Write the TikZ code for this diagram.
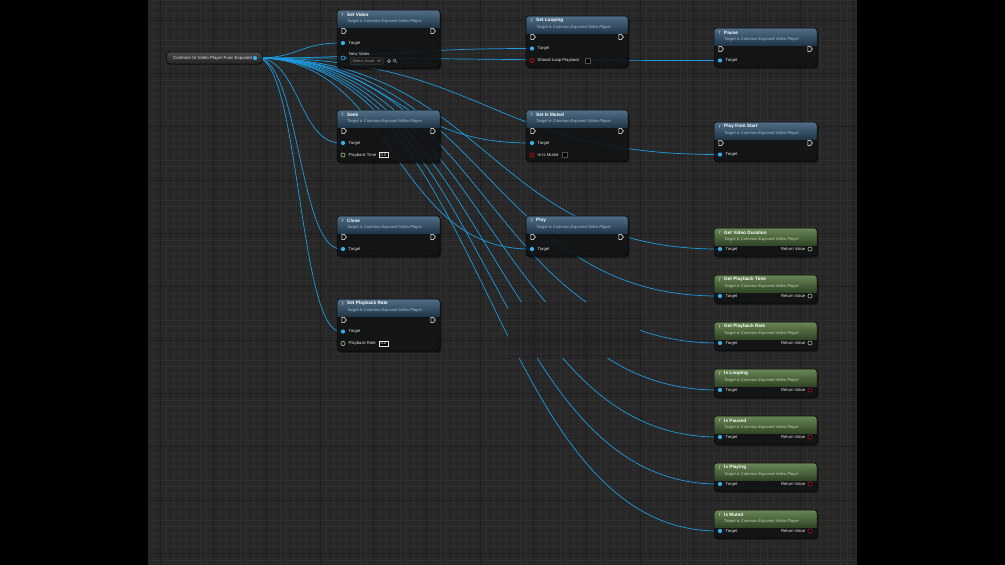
\documentclass[tikz,border=0pt]{standalone}
\usepackage{fontspec}
\setmainfont{Liberation Sans}
\usetikzlibrary{calc}
\pgfdeclarelayer{gridlayer}
\pgfdeclarelayer{wirelayer}
\pgfsetlayers{gridlayer,wirelayer,main}
\definecolor{barc}{HTML}{000000}
\definecolor{gridbg}{HTML}{272727}
\definecolor{gridminor}{HTML}{2E2E2E}
\definecolor{gridmajor}{HTML}{1F1F1F}
\definecolor{boxc}{HTML}{242424}
\definecolor{wirec}{HTML}{1E9BE0}
\definecolor{bodyc}{HTML}{131415}
\definecolor{hblueA}{HTML}{55758F}
\definecolor{hblueB}{HTML}{23394B}
\definecolor{hgreenA}{HTML}{6E8E5A}
\definecolor{hgreenB}{HTML}{33492A}
\definecolor{pinblue}{HTML}{35AEEA}
\definecolor{subbluec}{HTML}{A9C2D8}
\definecolor{subgreenc}{HTML}{C2D8B2}
\definecolor{floatc}{HTML}{A6CC86}
\definecolor{boolc}{HTML}{B01A1A}
\definecolor{labelc}{HTML}{E4E4E4}
\definecolor{greyc}{HTML}{8A8A8A}
\definecolor{HTMLgrey}{HTML}{505050}
\definecolor{HTMLvarA}{HTML}{4A4A4A}
\definecolor{HTMLvarB}{HTML}{222222}
\definecolor{HTMLsel}{HTML}{1E1E1E}
\definecolor{HTMLboolfill}{HTML}{3A0808}
\tikzset{
  wire/.style={draw=wirec, line width=0.7pt},
  nodebody/.style={fill=bodyc, fill opacity=0.84, draw=none, rounded corners=3pt, inner sep=0pt},
  hdrblue/.style={top color=hblueA, bottom color=hblueB, opacity=0.95},
  hdrgreen/.style={top color=hgreenA, bottom color=hgreenB, opacity=0.95},
  titletext/.style={font=\fontsize{4.7}{5}\selectfont\bfseries, text=white, inner sep=0pt, anchor=west},
  subtextblue/.style={font=\fontsize{4.1}{5}\selectfont\itshape, text=subbluec, inner sep=0pt, anchor=west},
  subtextgreen/.style={font=\fontsize{4.1}{5}\selectfont\itshape, text=subgreenc, inner sep=0pt, anchor=west},
  ficon/.style={font=\fontsize{4.5}{5}\selectfont\itshape, text=labelc, inner sep=0pt},
  pinlabel/.style={font=\fontsize{4.2}{5}\selectfont, text=labelc, inner sep=0pt, anchor=west},
  execp/.style={draw=white, line width=0.5pt, line join=round},
  tpinst/.style={circle, fill=pinblue, inner sep=0pt, minimum size=4.2pt},
  valst/.style={draw=labelc, line width=0.45pt, fill=black, inner xsep=1.4pt, inner ysep=0.9pt, font=\fontsize{4.3}{5}\selectfont, text=white, anchor=west},
  chkst/.style={draw=HTMLgrey, line width=0.45pt, fill=black, inner sep=0pt, minimum size=5pt, anchor=west},
}
\newcommand\bpnode[7]{%
  \fill[black, opacity=0.35, rounded corners=3pt] (#2+1.5,#3+2) rectangle ++(#4,#5);
  \node[nodebody, minimum width=#4pt, minimum height=#5pt, anchor=north west] (#1) at (#2,#3) {};
  \begin{scope}
    \clip[rounded corners=3pt] (#2,#3) rectangle ++(#4,#5);
    \shade[hdr#7] (#2,#3) rectangle ++(#4,17);
  \end{scope}
  \draw[rounded corners=3pt, draw=black, line width=0.5pt] (#2,#3) rectangle ++(#4,#5);
  \node[ficon] (#1-f) at (#2+5.5,#3+4.5) {f};
  \node[titletext] (#1-title) at (#2+10,#3+4.5) {#6};
  \node[subtext#7] (#1-sub) at (#2+10,#3+11.2) {Target is Common Exposed Video Player};
}
\newcommand\execpin[2]{\draw[execp] (#1-2.2,#2-2.6) -- (#1+0.3,#2-2.6) -- (#1+2.4,#2) -- (#1+0.3,#2+2.6) -- (#1-2.2,#2+2.6) -- cycle;}
\newcommand\tpin[3]{\node[tpinst] (#1) at (#2,#3) {}; \node[pinlabel] (#1-lbl) at (#2+5.5,#3) {Target};}
\newcommand\retpin[4]{\node[circle, draw=#4, line width=0.6pt, fill=black, inner sep=0pt, minimum size=4.2pt] (#1) at (#2,#3) {};
  \node[pinlabel, anchor=east] (#1-lbl) at (#2-4.5,#3) {Return Value};}
\newcommand\wire[3]{\draw[wire] (#1) .. controls +(#3,0) and +(-#3,0) .. (#2);}
\newcommand\gridlines{%
  \foreach \k in {-2,...,106} \draw[gridminor, line width=0.35pt] ({160+\k*6.6667},0) -- ({160+\k*6.6667},565);
  \foreach \k in {-3,...,82} \draw[gridminor, line width=0.35pt] (148,{20+\k*6.6667}) -- (857,{20+\k*6.6667});
  \foreach \k in {-1,...,13} \draw[gridmajor, line width=0.6pt] ({160+\k*53.333},0) -- ({160+\k*53.333},565);
  \foreach \k in {-1,...,10} \draw[gridmajor, line width=0.6pt] (148,{20+\k*53.333}) -- (857,{20+\k*53.333});
}
\begin{document}
\begin{tikzpicture}[x=1pt,y=-1pt]
\useasboundingbox (0,0) rectangle (1005,565);
\begin{pgfonlayer}{gridlayer}
  \fill[barc] (0,0) rectangle (1005,565);
  \fill[gridbg] (148,0) rectangle (857,565);
  \begin{scope}
    \clip (148,0) rectangle (857,565);
    \gridlines
  \end{scope}
\end{pgfonlayer}

% occluding patch
\fill[boxc] (508,302) rectangle (640,358);
\begin{scope}
  \clip (508,302) rectangle (640,358);
  \gridlines
\end{scope}

% variable node
\node[rounded corners=4pt, top color=HTMLvarA, bottom color=HTMLvarB, draw=black, line width=0.5pt, minimum width=96pt, minimum height=12pt, inner sep=0pt, anchor=west] (var) at (166,58) {};
\node[pinlabel, font=\fontsize{4.4}{5}\selectfont] (var-lbl) at (173,58) {Common Ui Video Player Func Exposed};
\node[tpinst] (var-o) at (255,58) {};

% Set Video
\bpnode{sv}{337}{10}{103}{58}{Set Video}{blue}
\execpin{344}{31}\execpin{433}{31}
\tpin{sv-t}{343}{43}
\node[circle, draw=pinblue, line width=0.6pt, inner sep=0pt, minimum size=4pt] (sv-nv) at (343,58) {};
\fill[pinblue] (345.6,56.8) -- (347,58) -- (345.6,59.2) -- cycle;
\node[pinlabel] (sv-nvl) at (349,53.5) {New Video};
\node[draw=HTMLgrey, fill=HTMLsel, rounded corners=1pt, inner sep=0pt, minimum width=33pt, minimum height=6.5pt, anchor=west] (sv-sel) at (350,61) {};
\node[pinlabel, text=greyc, font=\fontsize{3.9}{4}\selectfont] (sv-selt) at (352.5,61) {Select Asset};
\draw[greyc, line width=0.4pt] (377.5,60) -- (379,61.5) -- (380.5,60);
\draw[greyc, line width=0.45pt] (389,61) circle (1.8);
\draw[greyc, line width=0.4pt] (388.2,61) -- (389.8,61);
\draw[greyc, line width=0.45pt] (394.5,60.5) circle (1.5);
\draw[greyc, line width=0.5pt] (395.6,61.6) -- (397,63);

% Set Looping
\bpnode{sl}{526}{16}{102}{51}{Set Looping}{blue}
\execpin{533}{37}\execpin{621}{37}
\tpin{sl-t}{532}{48.5}
\node[circle, draw=boolc, fill=HTMLboolfill, line width=0.6pt, inner sep=0pt, minimum size=4.2pt] (sl-b) at (532,60.5) {};
\node[pinlabel] (sl-bl) at (537.5,60.5) {Should Loop Playback};
\node[chkst] (sl-chk) at (584.5,60.5) {};

% Pause
\bpnode{pa}{714}{28}{103}{39}{Pause}{blue}
\execpin{721}{49}\execpin{810}{49}
\tpin{pa-t}{720}{60.5}

% Seek
\bpnode{sk}{337}{110}{103}{52}{Seek}{blue}
\execpin{344}{131}\execpin{433}{131}
\tpin{sk-t}{343}{143}
\node[circle, draw=floatc, line width=0.6pt, inner sep=0pt, minimum size=4.2pt] (sk-pt) at (343,155) {};
\node[pinlabel] (sk-ptl) at (348.5,155) {Playback Time};
\node[valst] (sk-v) at (379,155) {0.0};

% Set Is Muted
\bpnode{sm}{526}{110}{102}{51}{Set Is Muted}{blue}
\execpin{533}{131}\execpin{621}{131}
\tpin{sm-t}{532}{143}
\node[circle, draw=boolc, fill=HTMLboolfill, line width=0.6pt, inner sep=0pt, minimum size=4.2pt] (sm-b) at (532,155) {};
\node[pinlabel] (sm-bl) at (537.5,155) {In Is Muted};
\node[chkst] (sm-chk) at (562,155) {};

% Play from Start
\bpnode{pfs}{714}{122}{103}{39}{Play from Start}{blue}
\execpin{721}{143}\execpin{810}{143}
\tpin{pfs-t}{720}{154.5}

% Close
\bpnode{cl}{337}{216}{103}{40}{Close}{blue}
\execpin{344}{237}\execpin{433}{237}
\tpin{cl-t}{343}{249}

% Play
\bpnode{pl}{526}{216}{102}{40}{Play}{blue}
\execpin{533}{237}\execpin{621}{237}
\tpin{pl-t}{532}{249}

% Set Playback Rate
\bpnode{spr}{337}{299}{103}{52}{Set Playback Rate}{blue}
\execpin{344}{320}\execpin{433}{320}
\tpin{spr-t}{343}{331.5}
\node[circle, draw=floatc, line width=0.6pt, inner sep=0pt, minimum size=4.2pt] (spr-pr) at (343,343.5) {};
\node[pinlabel] (spr-prl) at (348.5,343.5) {Playback Rate};
\node[valst] (spr-v) at (379,343.5) {0.0};

% pure nodes
\bpnode{gvd}{714}{228}{103}{28}{Get Video Duration}{green}
\tpin{gvd-t}{720}{249}\retpin{gvd-r}{810}{249}{floatc}
\bpnode{gpt}{714}{275}{103}{28}{Get Playback Time}{green}
\tpin{gpt-t}{720}{296}\retpin{gpt-r}{810}{296}{floatc}
\bpnode{gpr}{714}{322}{103}{28}{Get Playback Rate}{green}
\tpin{gpr-t}{720}{343}\retpin{gpr-r}{810}{343}{floatc}
\bpnode{il}{714}{369}{103}{28}{Is Looping}{green}
\tpin{il-t}{720}{390}\retpin{il-r}{810}{390}{boolc}
\bpnode{ip}{714}{416}{103}{28}{Is Paused}{green}
\tpin{ip-t}{720}{437}\retpin{ip-r}{810}{437}{boolc}
\bpnode{ipl}{714}{463}{103}{28}{Is Playing}{green}
\tpin{ipl-t}{720}{484}\retpin{ipl-r}{810}{484}{boolc}
\bpnode{im}{714}{510}{103}{28}{Is Muted}{green}
\tpin{im-t}{720}{531}\retpin{im-r}{810}{531}{boolc}

% wires
\begin{pgfonlayer}{wirelayer}
  \wire{var-o}{sv-t}{44}
  \wire{var-o}{sk-t}{44}
  \wire{var-o}{cl-t}{44}
  \wire{var-o}{spr-t}{44}
  \wire{var-o}{sl-t}{138}
  \wire{var-o}{sm-t}{138}
  \wire{var-o}{pl-t}{138}
  \wire{var-o}{pa-t}{232}
  \wire{var-o}{pfs-t}{232}
  \wire{var-o}{gvd-t}{232}
  \wire{var-o}{gpt-t}{232}
  \wire{var-o}{gpr-t}{232}
  \wire{var-o}{il-t}{232}
  \wire{var-o}{ip-t}{232}
  \wire{var-o}{ipl-t}{232}
  \wire{var-o}{im-t}{232}
\end{pgfonlayer}
\end{tikzpicture}
\end{document}
